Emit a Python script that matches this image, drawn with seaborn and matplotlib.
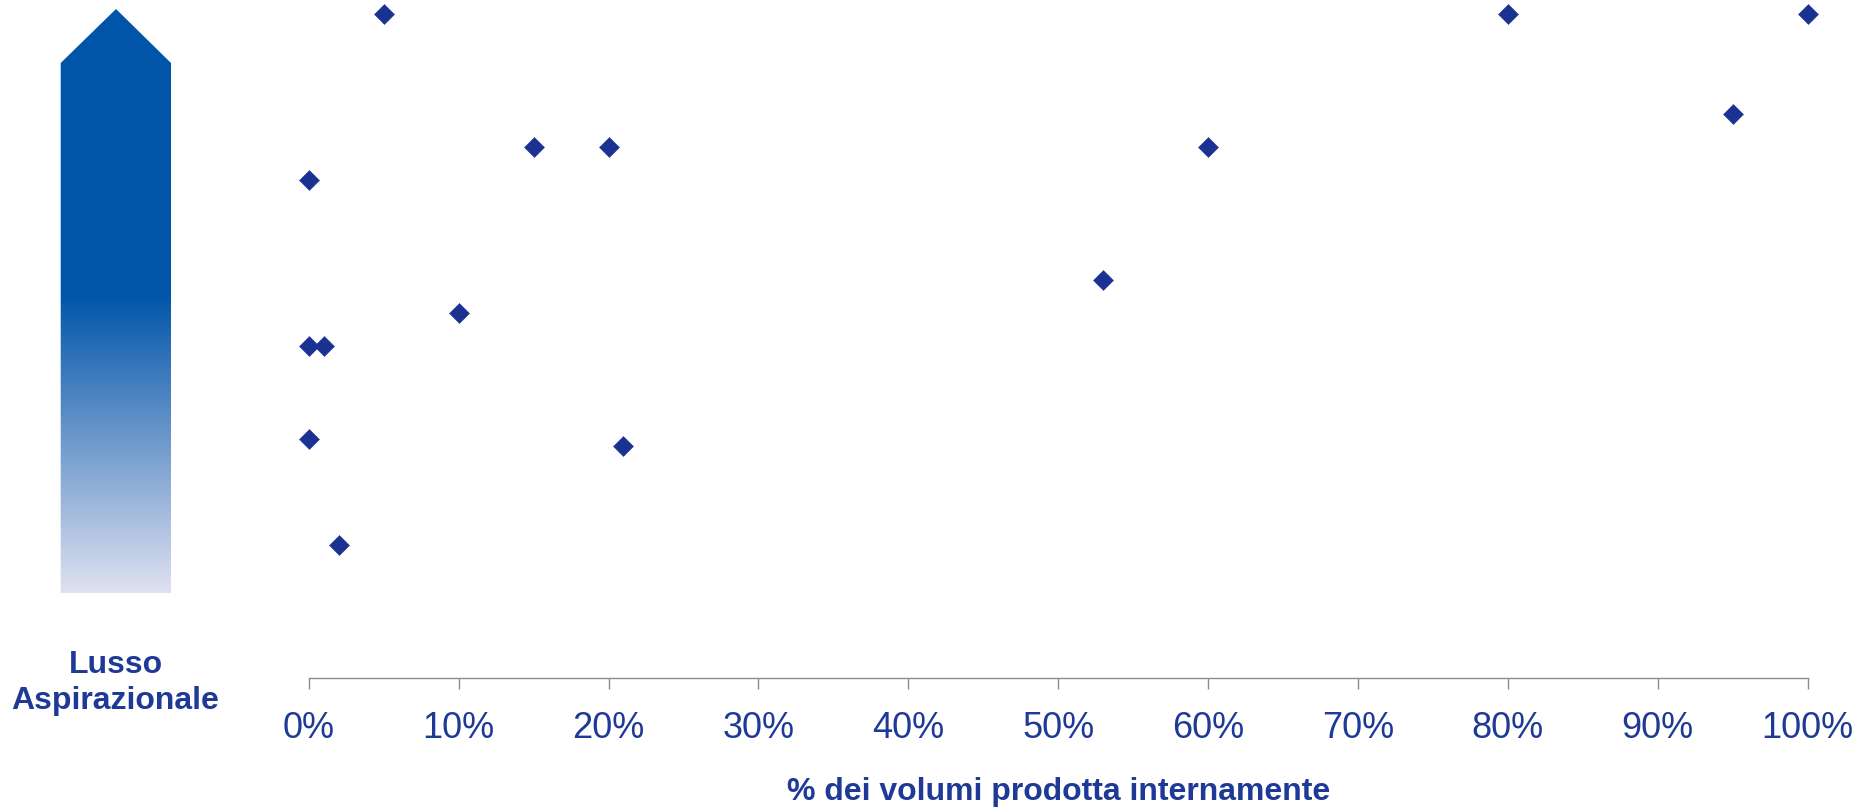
import numpy as np
import pandas as pd
import matplotlib
matplotlib.use("Agg")
import matplotlib.pyplot as plt
from matplotlib.patches import Polygon
import seaborn as sns

# Share of volumes produced in-house (%) and position on the luxury scale
internal_share = [5, 80, 100, 95, 15, 20, 60, 0, 53, 10, 0, 1, 0, 21, 2]
luxury_level = [16, 16, 16, 13, 12, 12, 12, 11, 8, 7, 6, 6, 3.2, 3, 0]

tick_values = [0, 10, 20, 30, 40, 50, 60, 70, 80, 90, 100]
tick_labels = [f"{v}%" for v in tick_values]
x_title = "% dei volumi prodotta internamente"
arrow_lines = ["Lusso", "Aspirazionale"]

MARK = "#1B3292"
TEXT = "#1E3A96"
AXIS_GREY = "#8C8C8C"
ARROW_TOP = np.array([0, 85, 169]) / 255
ARROW_BOTTOM = np.array([223, 225, 240]) / 255

sns.set_theme(style="white")
plt.rcParams["font.family"] = ["Liberation Sans", "DejaVu Sans"]

W, H = 1876, 808
fig = plt.figure(figsize=(W / 100, H / 100), dpi=100)

# Main scatter axes (pixel-based placement)
x0, x1 = 308.7, 1807.7
y_axis = 678
ax = fig.add_axes([x0 / W, (H - y_axis) / H, (x1 - x0) / W, y_axis / H])
ax.set_zorder(2)
ax.patch.set_alpha(0)

df = pd.DataFrame({"share": internal_share, "level": luxury_level})
sns.scatterplot(data=df, x="share", y="level", marker="D", s=105,
                color=MARK, edgecolor=MARK, linewidth=0.3, ax=ax,
                clip_on=False, legend=False)

unit = 531.0 / 16
ax.set_xlim(0, 100)
ax.set_ylim(-(y_axis - 545.3) / unit, 16 + 14.3 / unit)

for side in ("left", "top", "right"):
    ax.spines[side].set_visible(False)
ax.spines["bottom"].set_color(AXIS_GREY)
ax.spines["bottom"].set_linewidth(1.0)

ax.set_xticks(tick_values, tick_labels)
ax.set_yticks([])
ax.tick_params(axis="x", bottom=True, direction="out", length=8, width=1.0,
               color=AXIS_GREY, pad=16, labelsize=26, labelcolor=TEXT)
ax.set_ylabel("")
ax.set_xlabel(x_title, fontsize=23, fontweight="bold", color=TEXT,
              labelpad=22)

# Gradient arrow on the left, in pixel coordinates
deco = fig.add_axes([0, 0, 1, 1])
deco.set_zorder(1)
deco.set_xlim(0, W)
deco.set_ylim(H, 0)
deco.axis("off")

top_y, shoulder_y, bottom_y = 9, 63, 593
left_x, right_x, tip_x = 60.7, 171.0, 116.0
fade_start = 295

rows = np.arange(top_y, bottom_y + 1)
t = np.clip((rows - fade_start) / (bottom_y - fade_start), 0, 1)[:, None]
grad = (ARROW_TOP[None, :] * (1 - t) + ARROW_BOTTOM[None, :] * t)[:, None, :]
img = deco.imshow(grad, extent=[left_x - 1, right_x + 1, bottom_y, top_y],
                  aspect="auto", interpolation="bilinear", origin="upper")
shape = Polygon([(left_x, bottom_y), (left_x, shoulder_y), (tip_x, top_y),
                 (right_x, shoulder_y), (right_x, bottom_y)],
                closed=True, facecolor="none", edgecolor="none",
                transform=deco.transData)
deco.add_patch(shape)
img.set_clip_path(shape)
deco.set_xlim(0, W)
deco.set_ylim(H, 0)

for line, base in zip(arrow_lines, [673.3, 709.0]):
    deco.text(115.5, base, line, ha="center", va="baseline", fontsize=23,
              fontweight="bold", color=TEXT)

fig.savefig("out.png", dpi=100)
